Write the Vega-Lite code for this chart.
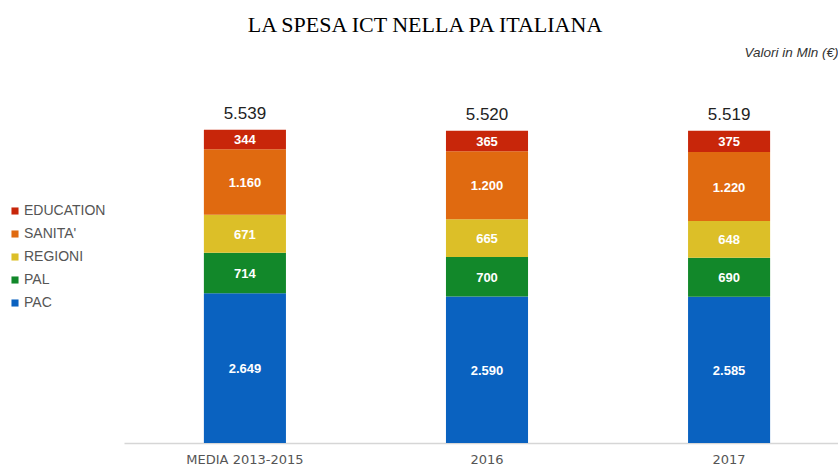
{
  "$schema": "https://vega.github.io/schema/vega-lite/v6.json",
  "width": 726,
  "height": 396,
  "autosize": "none",
  "padding": {"left": 124, "top": 47, "right": 0, "bottom": 23},
  "background": "white",
  "config": {
    "view": {"stroke": null},
    "locale": {"number": {"decimal": ",", "thousands": ".", "grouping": [3], "currency": ["", "€"]}}
  },
  "title": {
    "text": "LA SPESA ICT NELLA PA ITALIANA",
    "font": "Liberation Serif",
    "fontSize": 22,
    "fontWeight": "normal",
    "color": "#000000",
    "anchor": "middle",
    "dx": -62,
    "offset": 8
  },
  "datasets": {
    "spesa": [
      {"cat": "MEDIA 2013-2015", "seg": "PAC", "ord": 1, "v": 2649},
      {"cat": "MEDIA 2013-2015", "seg": "PAL", "ord": 2, "v": 714},
      {"cat": "MEDIA 2013-2015", "seg": "REGIONI", "ord": 3, "v": 671},
      {"cat": "MEDIA 2013-2015", "seg": "SANITA'", "ord": 4, "v": 1160},
      {"cat": "MEDIA 2013-2015", "seg": "EDUCATION", "ord": 5, "v": 344},
      {"cat": "2016", "seg": "PAC", "ord": 1, "v": 2590},
      {"cat": "2016", "seg": "PAL", "ord": 2, "v": 700},
      {"cat": "2016", "seg": "REGIONI", "ord": 3, "v": 665},
      {"cat": "2016", "seg": "SANITA'", "ord": 4, "v": 1200},
      {"cat": "2016", "seg": "EDUCATION", "ord": 5, "v": 365},
      {"cat": "2017", "seg": "PAC", "ord": 1, "v": 2585},
      {"cat": "2017", "seg": "PAL", "ord": 2, "v": 690},
      {"cat": "2017", "seg": "REGIONI", "ord": 3, "v": 648},
      {"cat": "2017", "seg": "SANITA'", "ord": 4, "v": 1220},
      {"cat": "2017", "seg": "EDUCATION", "ord": 5, "v": 375}
    ],
    "totali": [
      {"cat": "MEDIA 2013-2015", "tot": 5539},
      {"cat": "2016", "tot": 5520},
      {"cat": "2017", "tot": 5519}
    ]
  },
  "layer": [
    {
      "data": {"name": "spesa"},
      "transform": [
        {"stack": "v", "groupby": ["cat"], "sort": [{"field": "ord", "order": "ascending"}], "as": ["y0", "y1"]},
        {"calculate": "(datum.y0 + datum.y1) / 2", "as": "mid"}
      ],
      "layer": [
        {
          "mark": {"type": "bar"},
          "encoding": {
            "x": {"field": "cat", "type": "nominal", "sort": ["MEDIA 2013-2015", "2016", "2017"],
              "scale": {"paddingInner": 0.661, "paddingOuter": 0.33},
              "axis": {"title": null, "labelAngle": 0, "ticks": false, "domainColor": "#d6d6d6", "domainWidth": 1.5,
                "labelFont": "DejaVu Sans", "labelFontSize": 13, "labelColor": "#555555", "labelPadding": 10}},
            "y": {"field": "y0", "type": "quantitative", "scale": {"domain": [0, 7000]},
              "axis": {"orient": "right", "labels": false, "ticks": false, "domain": false, "grid": false,
                "title": "Valori in Mln (€)", "titleAngle": 0, "titleAlign": "right", "titleBaseline": "middle",
                "titleX": -12, "titleY": 5, "titleFont": "Liberation Sans", "titleFontSize": 13.5,
                "titleFontStyle": "italic", "titleFontWeight": "normal", "titleColor": "#333333"}},
            "y2": {"field": "y1"},
            "color": {"field": "seg", "type": "nominal",
              "scale": {"domain": ["EDUCATION", "SANITA'", "REGIONI", "PAL", "PAC"],
                "range": ["#c8260a", "#e06a10", "#dcbf28", "#12882a", "#0a62c0"]},
              "legend": {"title": null, "orient": "none", "legendX": -116, "legendY": 157,
                "symbolType": "square", "symbolSize": 50, "symbolStrokeWidth": 0,
                "labelFont": "Liberation Sans", "labelFontSize": 14, "labelColor": "#555555",
                "rowPadding": 9, "labelOffset": 2}}
          }
        },
        {
          "mark": {"type": "text", "color": "white", "font": "Liberation Sans", "fontWeight": "bold", "fontSize": 13, "baseline": "middle", "dy": 1},
          "encoding": {
            "x": {"field": "cat", "type": "nominal", "sort": ["MEDIA 2013-2015", "2016", "2017"]},
            "y": {"field": "mid", "type": "quantitative"},
            "text": {"field": "v", "type": "quantitative", "format": ",d"}
          }
        }
      ]
    },
    {
      "data": {"name": "totali"},
      "mark": {"type": "text", "color": "#222222", "font": "Liberation Sans", "fontSize": 17, "baseline": "bottom", "dy": -7},
      "encoding": {
        "x": {"field": "cat", "type": "nominal", "sort": ["MEDIA 2013-2015", "2016", "2017"]},
        "y": {"field": "tot", "type": "quantitative"},
        "text": {"field": "tot", "type": "quantitative", "format": ",d"}
      }
    }
  ]
}
